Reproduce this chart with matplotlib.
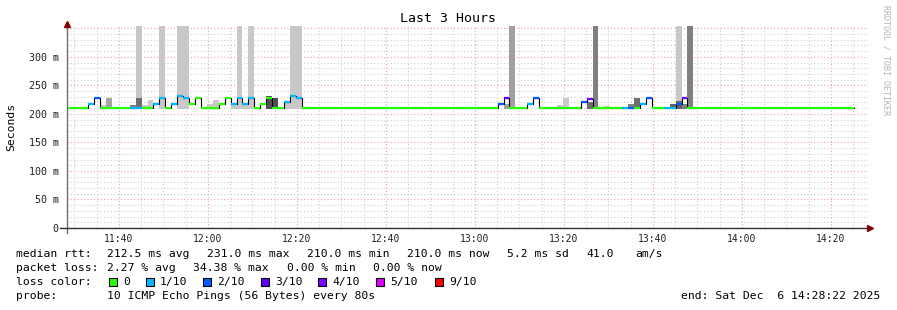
import matplotlib
matplotlib.use('Agg')
import matplotlib.pyplot as plt

MONO = 'DejaVu Sans Mono'

# time axis: minutes after 11:28:22 (window is 3 hours)
window_min = 180
first_step_min = 4.77      # first 80 s step boundary inside the window
step_min = 80 / 60.0

# median rtt per 80 s step (ms), steps k = -4 .. 129
median_ms = [
    210, 210, 210, 210,
    218, 227, 210, 210, 210, 210, 210, 210, 210, 210, 210, 218, 227, 210, 218, 232,
    227, 218, 227, 210, 210, 210, 218, 227, 218, 227, 218, 227, 210, 218, 227, 210,
    210, 221, 232, 227, 210,
    210, 210, 210, 210, 210, 210, 210, 210, 210, 210, 210, 210, 210, 210, 210, 210,
    210, 210, 210, 210, 210, 210, 210, 210, 210, 210, 210, 210, 210, 210, 210, 210,
    218, 227, 210, 210, 210, 218, 227, 210, 210, 210, 210, 210, 210, 210, 221, 226,
    210, 210, 210, 210, 210, 210, 210, 210, 218, 227, 210, 210, 210, 210, 218, 227,
    210, 210, 210, 210, 210, 210, 210, 210, 210, 210, 210, 210, 210, 210, 210, 210,
    210, 210, 210, 210, 210, 210, 210, 210, 210, 210, 210, 210,
]

# lost pings (out of 10) per step
loss_cnt = [
    0, 0, 0, 0,
    1, 2, 0, 0, 0, 0, 0, 1, 1, 0, 0, 1, 1, 0, 1, 1,
    1, 0, 0, 0, 0, 0, 0, 0, 1, 1, 1, 1, 0, 0, 0, 0,
    0, 1, 1, 1, 0,
    0, 0, 0, 0, 0, 0, 0, 0, 0, 0, 0, 0, 0, 0, 0, 0,
    0, 0, 0, 0, 0, 0, 0, 0, 0, 0, 0, 0, 0, 0, 0, 0,
    2, 3, 0, 0, 0, 1, 2, 0, 0, 0, 0, 0, 0, 0, 2, 4,
    0, 0, 0, 0, 0, 1, 2, 0, 1, 2, 0, 0, 1, 1, 2, 4,
    0, 0, 0, 0, 0, 0, 0, 0, 0, 0, 0, 0, 0, 0, 0, 0,
    0, 0, 0, 0, 0, 0, 0, 0, 0, 0, 0, 0,
]
first_k = -4

# smoke near the median: step index, top (ms), grey level
smoke_k = [2, 3, 7, 8, 9, 10, 20, 21, 24, 26, 30, 31, 33,
           70, 79, 80, 84, 87, 91, 92, 98, 99, 100]
smoke_top = [216, 227, 216, 227, 216, 225, 218, 225, 218, 218, 232, 227, 221,
             218, 216, 227, 221, 213, 218, 227, 218, 222, 218]
smoke_grey = [200, 165, 128, 110, 200, 200, 200, 200, 200, 200, 80, 80, 200,
              160, 200, 200, 110, 200, 128, 110, 100, 100, 128]
smoke_floor = 209

# slow pings: smoke reaching the top of the graph
tall_k = [8, 12, 15, 16, 25, 27, 34, 35, 71, 85, 99, 101]
tall_grey = [200, 200, 200, 200, 200, 200, 200, 200, 160, 128, 200, 128]

loss_colors = {0: '#26ff00', 1: '#00b8ff', 2: '#0059ff', 3: '#5e00ff',
               4: '#7e00ff', 5: '#dd00ff', 9: '#ff0000'}
legend_labels = ['0', '1/10', '2/10', '3/10', '4/10', '5/10', '9/10']
legend_keys = [0, 1, 2, 3, 4, 5, 9]

tick_labels = ['11:40', '12:00', '12:20', '12:40', '13:00',
               '13:20', '13:40', '14:00', '14:20']
tick_first = 11 + 38 / 60.0   # 11:40 in window minutes
y_max = 354


def loss_color(n):
    if n >= 9:
        return loss_colors[9]
    if n >= 5:
        return loss_colors[5]
    return loss_colors[n]


def step_start(k):
    return first_step_min + k * step_min


def grey(v):
    return '#%02x%02x%02x' % (v, v, v)


W, H = 897, 310
fig = plt.figure(figsize=(W / 100, H / 100), dpi=100)
fig.patch.set_facecolor('white')
ax = fig.add_axes([67 / W, 1 - 228 / H, 801 / W, 202 / H])
ax.set_xlim(0, window_min)
ax.set_ylim(0, y_max)
for s in ax.spines.values():
    s.set_visible(False)

# grid
ax.set_xticks([tick_first + 20 * i for i in range(len(tick_labels))])
ax.set_xticklabels(tick_labels)
ax.set_xticks([tick_first - 10 + 5 * i for i in range(37)
               if 0 < tick_first - 10 + 5 * i < window_min], minor=True)
ax.set_yticks(range(0, 351, 50))
ax.set_yticklabels(['0'] + ['%d m' % v for v in range(50, 351, 50)][:6] + [''])
ax.set_yticks(range(0, 351, 10), minor=True)
ax.grid(which='minor', color='#cfcfcf', linestyle=(0, (1, 2)), lw=0.8)
ax.grid(which='major', color='#f2a0a0', linestyle=(0, (1, 2)), lw=0.8)
ax.set_axisbelow(True)
ax.tick_params(which='both', length=0)
ax.tick_params(axis='x', pad=4, labelsize=7)
ax.tick_params(axis='y', pad=6, labelsize=7.2)
for lab in ax.get_xticklabels() + ax.get_yticklabels():
    lab.set_family(MONO)
    lab.set_color('#202020')

# smoke
for k, g in zip(tall_k, tall_grey):
    ax.bar(step_start(k), y_max - smoke_floor, width=step_min, bottom=smoke_floor,
           align='edge', color=grey(g), lw=0, zorder=2)
for k, top, g in zip(smoke_k, smoke_top, smoke_grey):
    ax.bar(step_start(k), top - smoke_floor, width=step_min, bottom=smoke_floor,
           align='edge', color=grey(g), lw=0, zorder=2)

# median line: black step connectors, loss-coloured levels
xs = [max(step_start(first_k + i), 0) for i in range(len(median_ms))]
xe = [step_start(first_k + i + 1) for i in range(len(median_ms))]
ax.step(xs + [xe[-1]], median_ms + [median_ms[-1]], where='post',
        color='black', lw=0.8, zorder=3)
for a, b, m, n in zip(xs, xe, median_ms, loss_cnt):
    ax.plot([a, b], [m, m], color=loss_color(n), lw=1.6,
            solid_capstyle='butt', zorder=4)

# axes lines with arrows
ax.plot([0, 0], [-0.025, 1.0], transform=ax.transAxes, color='#707070',
        lw=1.0, clip_on=False, zorder=5)
ax.plot([-0.009, 1.0], [0, 0], transform=ax.transAxes, color='#303030',
        lw=1.0, clip_on=False, zorder=5)
ax.plot([0], [1.01], transform=ax.transAxes, marker='^', color='#7f0000',
        ms=4.5, clip_on=False, zorder=6)
ax.plot([1.003], [0], transform=ax.transAxes, marker='>', color='#7f0000',
        ms=4.5, clip_on=False, zorder=6)

# texts
fig.text(448 / W, 1 - 19 / H, 'Last 3 Hours', ha='center', va='center',
         family=MONO, fontsize=9.5)
fig.text(11 / W, 1 - 127 / H, 'Seconds', rotation=90, ha='center',
         va='center', family=MONO, fontsize=8.2)
fig.text(886 / W, 1 - 60 / H, 'RRDTOOL / TOBI OETIKER', rotation=270,
         ha='center', va='center', family=MONO, fontsize=6, color='#b4b4b4')


def put(x, y, s, **kw):
    fig.text(x / W, 1 - y / H, s, va='center', family=MONO, fontsize=8.2, **kw)


row1 = [(16, 'median rtt:'), (107, '212.5 ms avg'), (207, '231.0 ms max'),
        (307, '210.0 ms min'), (407, '210.0 ms now'), (507, '5.2 ms sd'),
        (586, '41.0'), (635, 'am/s')]
row2 = [(16, 'packet loss:'), (107, '2.27 % avg'), (193, '34.38 % max'),
        (287, '0.00 % min'), (373, '0.00 % now')]
for x, s in row1:
    put(x, 254, s)
for x, s in row2:
    put(x, 268, s)

put(16, 282, 'loss color:')
box_x = [109, 146, 203, 261, 318, 376, 435]
for bx, key, lab in zip(box_x, legend_keys, legend_labels):
    fig.patches.append(plt.Rectangle((bx / W, 1 - 286 / H), 8 / W, 8 / H,
                                     transform=fig.transFigure,
                                     facecolor=loss_colors[key],
                                     edgecolor='black', lw=0.8))
    put(bx + 14, 282, lab)

put(16, 296, 'probe:')
put(107, 296, '10 ICMP Echo Pings (56 Bytes) every 80s')
put(880, 296, 'end: Sat Dec  6 14:28:22 2025', ha='right')

fig.savefig('out.png', dpi=100, facecolor='white')
